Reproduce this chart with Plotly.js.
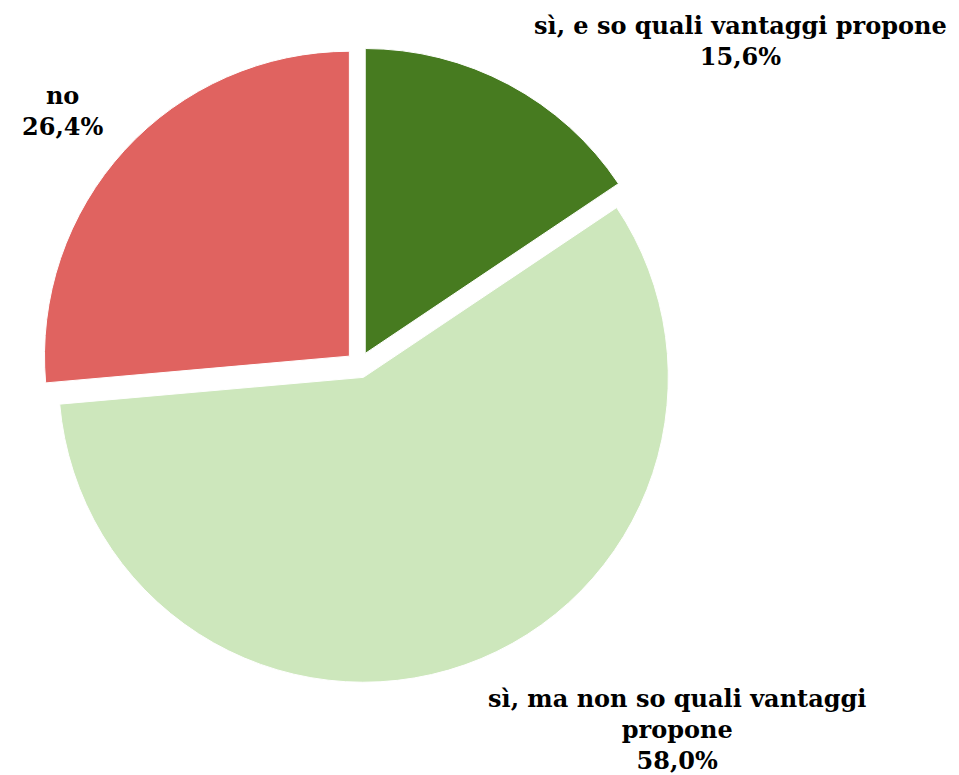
<!DOCTYPE html>
<html>
<head>
<meta charset="utf-8">
<script src="https://cdn.plot.ly/plotly-3.0.1.min.js"></script>
<style>html,body{margin:0;padding:0;background:#fff;}#chart{width:959px;height:775px;}</style>
</head>
<body>
<div id="chart"></div>
<script>
const categories = ["sì, e so quali vantaggi propone", "sì, ma non so quali vantaggi propone", "no"];
const labelLines = ["sì, e so quali vantaggi propone", "sì, ma non so quali vantaggi<br>propone", "no"];
const values = [15.6, 58.0, 26.4];
const colors = ["#477B20", "#CDE7BC", "#E06360"];

const fmt = v => v.toFixed(1).replace(".", ",") + "%";
const labelPos = [
  {x: 740, y: 41},
  {x: 677, y: 729},
  {x: 62, y: 111}
];
const annotations = categories.map((c, i) => ({
  text: "<b>" + labelLines[i] + "<br>" + fmt(values[i]) + "</b>",
  x: labelPos[i].x / 959, y: 1 - labelPos[i].y / 775,
  xref: "paper", yref: "paper", xanchor: "center", yanchor: "middle",
  showarrow: false, align: "center",
  font: {family: "DejaVu Serif", size: 24, color: "#000"}
}));

Plotly.newPlot("chart", [{
  type: "pie",
  labels: categories,
  values: values,
  marker: {colors: colors, line: {color: "#fff", width: 1}},
  sort: false,
  direction: "clockwise",
  rotation: 0,
  pull: [0.043, 0.043, 0.043],
  textinfo: "none",
  hoverinfo: "label+percent",
  domain: {x: [0.0428, 0.706], y: [0.1187, 0.9394]}
}], {
  width: 959, height: 775,
  margin: {l: 0, r: 0, t: 0, b: 0},
  showlegend: false,
  paper_bgcolor: "#fff",
  annotations: annotations
}, {displayModeBar: false});
</script>
</body>
</html>
